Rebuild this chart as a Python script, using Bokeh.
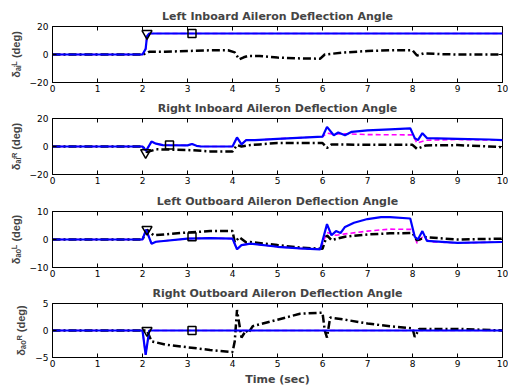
from bokeh.plotting import figure
from bokeh.layouts import column
from bokeh.models import Range1d, FixedTicker
from bokeh.embed import file_html
from bokeh.resources import INLINE
import math

# ---------------- data ----------------
titles = ["Left Inboard Aileron Deflection Angle",
          "Right Inboard Aileron Deflection Angle",
          "Left Outboard Aileron Deflection Angle",
          "Right Outboard Aileron Deflection Angle"]
ylabels = ["δₐᵢᴸ (deg)", "δₐᵢᴿ (deg)", "δₐₒᴸ (deg)", "δₐₒᴿ (deg)"]
x_ticks = [0, 1, 2, 3, 4, 5, 6, 7, 8, 9, 10]
y_ticks = [[-20, 0, 20], [-20, 0, 20], [-10, 0, 10], [-5, 0, 5]]
y_lims = [(-20, 20), (-20, 20), (-10, 10), (-5, 5)]
x_lim = (0, 10)
xlabel = "Time (sec)"

# Panel 1
p1_blue_t = [0, 2.0, 2.07, 2.1, 2.15, 10]
p1_blue_y = [0, 0, 4, 13, 15, 15]
p1_mag_t = [0, 2.0, 2.07, 2.1, 2.15, 10]
p1_mag_y = [0, 0, 4, 13, 15, 15]
p1_blk_t = [0, 2.0, 2.1, 2.15, 2.5, 3.0, 3.5, 3.9, 4.05, 4.15, 4.25, 4.35, 4.6, 5.0,
            5.5, 5.95, 6.05, 6.2, 6.5, 7.0, 7.5, 8.0, 8.1, 8.25, 8.6, 9.0, 10]
p1_blk_y = [0, 0, 1, 2, 2, 2.5, 3, 3, 1.5, -3.5, -2, -1, -1, -2.2,
            -2.8, -3, 0, 0.5, 1.5, 2.5, 3, 3, -0.7, 0.8, 0.3, 0, 0]
p1_tri = (2.1, 15)
p1_sq = (3.1, 15)

# Panel 2
p2_blue_t = [0, 2.0, 2.08, 2.2, 2.3, 2.45, 3.0, 3.1, 3.2, 3.3, 4.0, 4.1, 4.2, 4.3, 4.5,
             5.0, 6.0, 6.1, 6.25, 6.35, 6.5, 6.65, 7.0, 7.5, 7.95, 8.05, 8.12, 8.22,
             8.32, 9.0, 9.7, 10]
p2_blue_y = [0, 0, -3, 3.5, 2, 1, 0.8, 1.8, 0.5, 0, 0, 6.5, 1.5, 4.5, 4.5,
             5.5, 7, 14, 8, 10, 8, 10.5, 11.5, 12.3, 13, 6, 4.5, 9.5,
             6, 5.5, 5, 4.5]
p2_mag_t = [0, 2.0, 2.08, 2.2, 2.3, 2.45, 3.0, 3.1, 3.2, 3.3, 4.0, 4.1, 4.2, 4.3, 4.5,
            5.0, 6.0, 6.1, 6.2, 6.6, 7.0, 8.0, 8.1, 8.3, 9.0, 10]
p2_mag_y = [0, 0, -3, 3.5, 2, 1, 0.8, 1.8, 0.5, 0, 0, 6.5, 1.5, 4.5, 4.5,
            5.5, 7, 9.5, 9, 9, 8.5, 8.3, 2.5, 4.5, 5, 4.5]
p2_blk_t = [0, 2.0, 2.1, 2.3, 3.0, 3.5, 4.0, 4.1, 4.2, 4.4, 4.6, 5.0, 6.0, 6.1, 6.2,
            7.0, 8.0, 8.1, 8.3, 9.0, 9.7, 10]
p2_blk_y = [0, 0, -4, -2, -2.5, -3.5, -3.5, 1, 0, 1, 1.5, 2.5, 2.5, -1, 1.5,
            1.2, 1.2, -1.7, 0.8, 1, 0, -0.5]
p2_tri = (2.07, -4.3)
p2_sq = (2.6, 1)

# Panel 3
p3_blue_t = [0, 2.0, 2.08, 2.2, 2.3, 3.0, 3.5, 4.0, 4.1, 4.2, 4.4, 5.0, 5.5, 5.95,
             6.1, 6.2, 6.3, 6.4, 6.5, 6.7, 7.0, 7.3, 7.5, 7.95, 8.05, 8.12, 8.22,
             8.32, 9.0, 10]
p3_blue_y = [0, 0, 3.5, -1.5, -0.8, 0.3, 0.5, 0.3, -3.5, -2, -1.5, -2.6, -3.2, -3.5,
             5.5, 1.5, 3, 2.3, 4.5, 6, 7.3, 8, 8, 7.5, 1, 0, 3,
             -0.5, -1.2, -0.9]
p3_mag_t = [0, 2.0, 2.08, 2.2, 2.3, 3.0, 3.5, 4.0, 4.1, 4.2, 4.4, 5.0, 5.5, 5.95,
            6.1, 6.3, 6.5, 7.0, 7.5, 8.0, 8.1, 8.22, 8.4, 9.0, 10]
p3_mag_y = [0, 0, 3.5, -1.5, -0.8, 0.3, 0.5, 0.3, -3.5, -2, -1.5, -2.6, -3.2, -3.5,
            2.5, 1.5, 2, 3, 3.7, 3.6, -1.3, 0.8, -0.8, -1.2, -0.9]
p3_blk_t = [0, 2.0, 2.1, 2.25, 3.0, 3.5, 4.0, 4.05, 4.15, 4.3, 4.4, 5.0, 5.5, 6.0,
            6.1, 6.2, 6.5, 7.0, 7.5, 8.0, 8.1, 8.3, 9.0, 10]
p3_blk_y = [0, 0, 3.5, 1.5, 2.5, 3, 3, -1, 0.8, -1, -0.9, -2, -2.9, -3.3,
            1.5, -0.2, 1, 1.8, 2.2, 2.3, -0.3, 0.8, 0, 0.3]
p3_tri = (2.1, 3.6)
p3_sq = (3.1, 1)

# Panel 4
p4_blue_t = [0, 2.0, 2.07, 2.15, 10]
p4_blue_y = [0, 0, -4.5, 0, 0]
p4_mag_t = [0, 2.0, 2.07, 2.15, 10]
p4_mag_y = [0, 0, -4.5, 0, 0]
p4_blk_t = [0, 2.05, 2.1, 2.2, 2.5, 3.0, 3.5, 4.0, 4.05, 4.1, 4.2, 4.3, 4.35, 4.45,
            5.0, 5.5, 6.0, 6.05, 6.1, 6.17, 6.5, 7.0, 7.5, 8.0, 8.05, 8.15, 9.0, 10]
p4_blk_y = [0, 0, 0, -2, -2.6, -3.1, -3.6, -4, -2, 3.8, -1.3, 0, -0.5, 0.8,
            2, 3.1, 3.3, 0, -1.3, 2.4, 2, 1.3, 0.8, 0.4, -1.2, 0.3, 0.3, 0]
p4_tri = (2.1, 0)
p4_sq = (3.1, 0)

panels = [
    (p1_blue_t, p1_blue_y, p1_mag_t, p1_mag_y, p1_blk_t, p1_blk_y, p1_tri, p1_sq),
    (p2_blue_t, p2_blue_y, p2_mag_t, p2_mag_y, p2_blk_t, p2_blk_y, p2_tri, p2_sq),
    (p3_blue_t, p3_blue_y, p3_mag_t, p3_mag_y, p3_blk_t, p3_blk_y, p3_tri, p3_sq),
    (p4_blue_t, p4_blue_y, p4_mag_t, p4_mag_y, p4_blk_t, p4_blk_y, p4_tri, p4_sq),
]

# ---------------- layout ----------------
heights = [96, 92, 93, 107]
tops = [26, 22, 23, 22]
bottoms = [14, 14, 14, 29]

TICK_FONT = "DejaVu Sans"
figs = []
for i, (bt, by, mt, my, kt, ky, tri, sq) in enumerate(panels):
    p = figure(width=508, height=heights[i], output_backend="svg", toolbar_location=None,
               x_range=Range1d(*x_lim), y_range=Range1d(*y_lims[i]),
               min_border_left=52, min_border_right=6,
               min_border_top=tops[i], min_border_bottom=bottoms[i],
               title=titles[i])
    p.title.text_font = "DejaVu Sans"
    p.title.text_font_style = "bold"
    p.title.text_font_size = "11px"
    p.title.align = "center"
    p.title.standoff = 7
    p.xgrid.visible = False
    p.ygrid.visible = False
    p.outline_line_color = "black"
    p.outline_line_width = 1
    p.background_fill_color = "white"
    p.border_fill_color = "white"

    for ax, ticks in ((p.xaxis[0], x_ticks), (p.yaxis[0], y_ticks[i])):
        ax.ticker = FixedTicker(ticks=ticks)
        ax.major_tick_in = 4
        ax.major_tick_out = 0
        ax.minor_tick_line_color = None
        ax.axis_line_color = "black"
        ax.major_tick_line_color = "black"
        ax.major_label_text_font = TICK_FONT
        ax.major_label_text_font_size = "9px"
        ax.major_label_text_color = "black"
    p.xaxis[0].major_label_standoff = 2
    p.yaxis[0].major_label_standoff = 4

    p.yaxis[0].axis_label = ylabels[i]
    p.yaxis[0].axis_label_text_font = "Liberation Sans"
    p.yaxis[0].axis_label_text_font_style = "bold"
    p.yaxis[0].axis_label_text_font_size = "11px"
    p.yaxis[0].axis_label_standoff = 5
    if i == 3:
        p.xaxis[0].axis_label = xlabel
        p.xaxis[0].axis_label_text_font = "DejaVu Sans"
        p.xaxis[0].axis_label_text_font_style = "bold"
        p.xaxis[0].axis_label_text_font_size = "11px"
        p.xaxis[0].axis_label_standoff = 3

    # box ticks on top and right edges (inward, clipped to the frame)
    p.scatter(x_ticks, [y_lims[i][1]] * len(x_ticks), marker="dash", size=8,
              angle=math.pi / 2, line_color="black", line_width=1)
    p.scatter([x_lim[1]] * len(y_ticks[i]), y_ticks[i], marker="dash", size=8,
              line_color="black", line_width=1)

    p.line(mt, my, line_color="#FF00FF", line_width=1.6, line_dash="5 3")
    p.line(kt, ky, line_color="black", line_width=2.5, line_dash="8 3 2 3")
    p.line(bt, by, line_color="#0000FF", line_width=2.2)
    p.scatter([tri[0]], [tri[1]], marker="inverted_triangle", size=10,
              line_color="black", fill_color=None, line_width=1.5)
    p.scatter([sq[0]], [sq[1]], marker="square", size=8,
              line_color="black", fill_color=None, line_width=1.5)
    figs.append(p)

layout = column(*figs, spacing=0)
open("out.html", "w").write(file_html(layout, INLINE))
